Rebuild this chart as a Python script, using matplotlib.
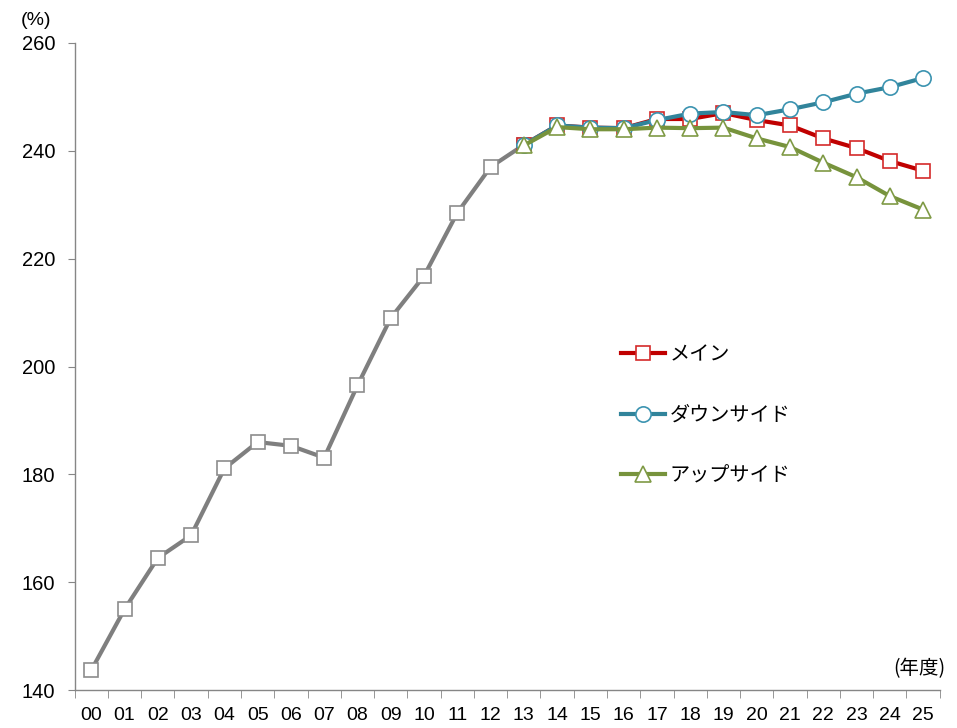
import matplotlib
matplotlib.use("Agg")
import matplotlib.pyplot as plt
from matplotlib.lines import Line2D

JP = ["Noto Sans CJK JP", "DejaVu Sans"]

# --- data ---
years = ["00", "01", "02", "03", "04", "05", "06", "07", "08", "09", "10", "11", "12",
         "13", "14", "15", "16", "17", "18", "19", "20", "21", "22", "23", "24", "25"]

actual = [143.7, 155.0, 164.5, 168.7, 181.1, 186.0, 185.3, 183.1, 196.5, 209.0,
          216.8, 228.5, 237.0, 241.1]

main = [241.1, 244.7, 244.3, 244.2, 245.9, 245.9, 247.0, 245.7, 244.7, 242.3,
        240.5, 238.1, 236.3]
downside = [241.1, 244.7, 244.3, 244.2, 245.7, 246.9, 247.2, 246.6, 247.7, 249.0,
            250.6, 251.8, 253.5]
upside = [241.0, 244.4, 244.0, 244.0, 244.3, 244.2, 244.3, 242.3, 240.7, 237.8,
          235.1, 231.6, 229.1]

labels = ["メイン", "ダウンサイド", "アップサイド"]

GRAY = "#7f7f7f"
GRAY_EDGE = "#8c8c8c"
RED = "#c00000"
RED_EDGE = "#d42a2a"
BLUE = "#31849b"
BLUE_EDGE = "#3b93b0"
GREEN = "#77933c"
GREEN_EDGE = "#7f9a45"

fig = plt.figure(figsize=(9.57, 7.28), dpi=100)
ax = fig.add_axes([0.078, 0.052, 0.904, 0.889])

x_all = list(range(len(years)))
x_act = x_all[:len(actual)]
x_fc = x_all[len(actual) - 1:]

lw = 3.0
ax.plot(x_act, actual, color=GRAY, lw=lw, marker="s", ms=10.5,
        mfc="white", mec=GRAY_EDGE, mew=1.2, zorder=2)
ax.plot(x_fc, main, color=RED, lw=lw, marker="s", ms=10.5,
        mfc="white", mec=RED_EDGE, mew=1.2, zorder=3)
ax.plot(x_fc, downside, color=BLUE, lw=lw, marker="o", ms=11,
        mfc="white", mec=BLUE_EDGE, mew=1.2, zorder=4)
ax.plot(x_fc, upside, color=GREEN, lw=lw, marker="^", ms=11.5,
        mfc="white", mec=GREEN_EDGE, mew=1.2, zorder=5)

# --- axes ---
ax.set_xlim(-0.5, len(years) - 0.5)
ax.set_ylim(140, 260)
ax.set_yticks(range(140, 261, 20))
ax.set_xticks(x_all)
ax.set_xticklabels(years, family=["Liberation Sans Narrow", "Liberation Sans"], fontsize=14)
ax.set_xticks([i - 0.5 for i in range(len(years) + 1)], minor=True)
ax.tick_params(axis="x", which="major", length=0, pad=12)
ax.tick_params(axis="x", which="minor", length=6, color="#868686", direction="out")
ax.tick_params(axis="y", length=5, color="#868686", labelsize=14.5, pad=9)
for lab in ax.get_yticklabels():
    lab.set_family(["Liberation Sans", "DejaVu Sans"])

for side in ["top", "right"]:
    ax.spines[side].set_visible(False)
for side in ["left", "bottom"]:
    ax.spines[side].set_color("#868686")
    ax.spines[side].set_linewidth(1.0)

fig.text(0.022, 0.972, "(%)", fontsize=14, family=["Liberation Sans", "DejaVu Sans"],
         va="center", ha="left")
fig.text(0.988, 0.082, "(年度)", fontsize=14, family=JP, va="center", ha="right")

# --- legend ---
handles = [
    Line2D([], [], color=RED, lw=lw, marker="s", ms=10.5, mfc="white", mec=RED_EDGE, mew=1.2),
    Line2D([], [], color=BLUE, lw=lw, marker="o", ms=11, mfc="white", mec=BLUE_EDGE, mew=1.2),
    Line2D([], [], color=GREEN, lw=lw, marker="^", ms=11.5, mfc="white", mec=GREEN_EDGE, mew=1.2),
]
ax.legend(handles, labels, loc="upper left", bbox_to_anchor=(0.631, 0.534),
          frameon=False, prop={"family": JP, "size": 14.5}, handlelength=2.2,
          handletextpad=0.25, labelspacing=1.95, borderpad=0, borderaxespad=0)

fig.savefig("out.png", dpi=100)
